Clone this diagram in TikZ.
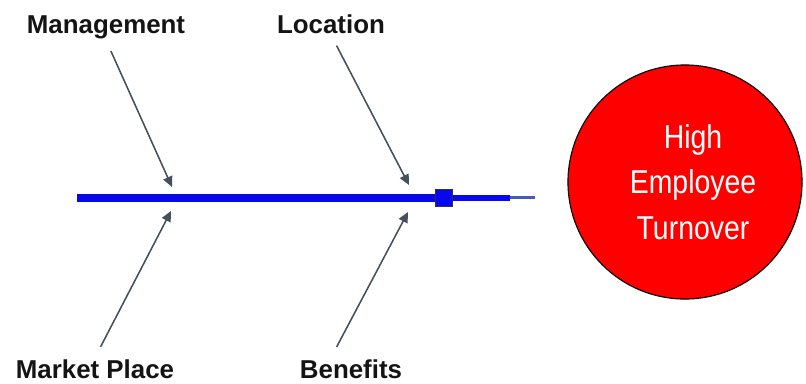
\documentclass[tikz,border=0pt]{standalone}
\usepackage{fontspec}
\setmainfont{Liberation Sans}
\newfontfamily\narrowfont[FakeStretch=0.86]{Liberation Sans}
\usetikzlibrary{positioning,arrows.meta,calc}
\definecolor{spineblue}{RGB}{8,8,238}
\definecolor{necktip}{RGB}{70,90,190}
\definecolor{effectred}{RGB}{255,0,0}
\definecolor{ink}{RGB}{20,20,20}
\definecolor{stem}{RGB}{70,80,90}
\tikzset{
  cause/.style={font=\fontsize{18.4}{22}\selectfont\bfseries, text=ink, inner sep=1pt},
  effect/.style={circle, draw=black, thick, fill=effectred, minimum size=5.85cm, inner sep=0pt},
  effecttext/.style={align=center, text=white, inner sep=0pt,
                 font=\narrowfont\fontsize{23.5}{32.3}\selectfont},
  bone/.style={-{Triangle[length=0.26cm,width=0.24cm]}, line width=1.1pt, draw=stem},
  spine/.style={line width=0.2cm, draw=spineblue},
}

\begin{document}
\begin{tikzpicture}[x=0.025cm, y=-0.025cm]
  \useasboundingbox (0,0) rectangle (806,383);

  % head of the fish
  \node[effect] (turn) at (685,182) {};
  \node[effecttext, xshift=0.2cm] (turntext) at (turn.center) {High\\Employee\\Turnover};

  % spine
  \coordinate (tail) at (77,197.5);
  \coordinate (neck) at (452,197.5);
  \coordinate (jaw)  at (510,197.5);
  \coordinate (lip)  at (535,197.5);
  \draw[spine] (tail) -- (neck);
  \draw[spineblue, line width=0.15cm] (neck) -- (jaw);
  \draw[necktip, line width=0.075cm] (jaw) -- (lip);
  \filldraw[fill=spineblue, draw=black!80, line width=0.6pt] (435,189.5) rectangle (452,206);

  % causes
  \node[cause, anchor=base] (mgmt) at (106,33)  {Management};
  \node[cause, anchor=base] (loc)  at (331,33)  {Location};
  \node[cause, anchor=base] (mkt)  at (95,378)  {Market Place};
  \node[cause, anchor=base] (ben)  at (351,378) {Benefits};

  \coordinate (m1) at (172,187);
  \coordinate (l1) at (409,185);
  \coordinate (k1) at (171,211);
  \coordinate (b1) at (408,212);

  \draw[bone, shorten <=0.3cm] (mgmt.south) -- (m1);
  \draw[bone, shorten <=0.3cm] (loc.south) -- (l1);
  \draw[bone, shorten <=0.3cm] (mkt.north) -- (k1);
  \draw[bone, shorten <=0.3cm] ([xshift=-0.5cm]ben.north) -- (b1);
\end{tikzpicture}
\end{document}
